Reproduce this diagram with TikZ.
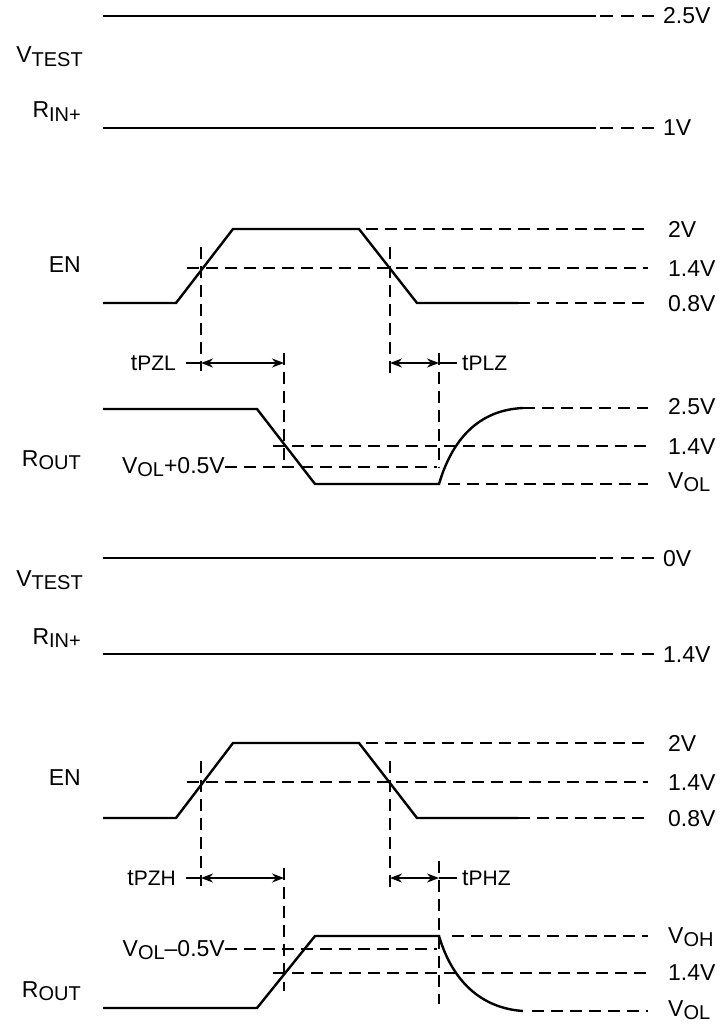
\documentclass[tikz,border=0pt]{standalone}
\usepackage{fontspec}
\setmainfont{Liberation Sans}
\usetikzlibrary{arrows.meta}
\newcommand\sg[2]{#1{\fontsize{20}{20}\selectfont\raisebox{-3.5pt}{#2}}}
\newcommand\tsg[2]{#1{\fontsize{21}{21}\selectfont #2}}
\begin{document}
\begin{tikzpicture}[x=1pt,y=-1pt,
  sig/.style={line width=2.4pt, line join=miter},
  dsh/.style={line width=2.1pt, dash pattern=on 12pt off 7pt},
  lbl/.style={font=\fontsize{23}{23}\selectfont, inner sep=0pt},
  arr/.style={line width=2pt, {Stealth[length=12pt,width=9pt]}-{Stealth[length=12pt,width=9pt]}},
  tk/.style={line width=2pt}]
\useasboundingbox (0,0) rectangle (720,1024);

% ================= upper half =================
% VTEST
\coordinate (a1) at (103,16); \coordinate (a2) at (596,16); \coordinate (a3) at (654,16);
\draw[sig] (a1) -- (a2);
\draw[dsh, dash pattern=on 13pt off 8pt, dash phase=-4pt] (a2) -- (a3);
\node[lbl, anchor=base west] (l25a) at (663,24) {2.5V};
\node[lbl, anchor=base east] (vt1) at (83,63) {\sg{V}{TEST}};
% RIN+
\coordinate (b1) at (103,128); \coordinate (b2) at (596,128); \coordinate (b3) at (654,128);
\draw[sig] (b1) -- (b2);
\draw[dsh, dash pattern=on 13pt off 8pt, dash phase=-4pt] (b2) -- (b3);
\node[lbl, anchor=base west] (l1v) at (663,136) {1V};
\node[lbl, anchor=base east] (rin1) at (81,118) {\sg{R}{IN+}};

% EN
\node[lbl, anchor=base east] (en1) at (81,272) {EN};
\coordinate (e1) at (103,303); \coordinate (e2) at (176,303);
\coordinate (e3) at (233,229); \coordinate (e4) at (359,229);
\coordinate (e5) at (417,303); \coordinate (e6) at (518,303);
\draw[sig] (e1) -- (e2) -- (e3) -- (e4) -- (e5) -- (e6);
\coordinate (e2v) at (648,229); \coordinate (e14a) at (187,268); \coordinate (e14b) at (648,268);
\coordinate (e08) at (648,303);
\draw[dsh] (366,229) -- (e2v);
\draw[dsh] (e14a) -- (e14b);
\draw[dsh] (e6) -- (e08);
\node[lbl, anchor=base west] (l2v) at (668,237) {2V};
\node[lbl, anchor=base west] (l14a) at (668,276) {1.4V};
\node[lbl, anchor=base west] (l08a) at (668,311) {0.8V};

% verticals
\coordinate (p1t) at (201,247); \coordinate (p1b) at (201,371);
\coordinate (p2t) at (390,247); \coordinate (p2b) at (390,377);
\coordinate (p3t) at (284,353); \coordinate (p3b) at (284,468);
\coordinate (p4t) at (439,353); \coordinate (p4b) at (439,468);
\draw[dsh] (p1t) -- (p1b);
\draw[dsh] (p2t) -- (p2b);
\draw[dsh] (p3t) -- (p3b);
\draw[dsh] (p4t) -- (p4b);

% timing arrows
\node[lbl, anchor=base east] (tpzl) at (176,370) {\tsg{t}{PZL}};
\coordinate (q1) at (186,363); \coordinate (q2) at (201,363); \coordinate (q3) at (284,363);
\draw[tk] (q1) -- (q2);
\draw[arr] (q2) -- (q3);
\coordinate (q4) at (390,363); \coordinate (q5) at (439,363); \coordinate (q6) at (457,363);
\draw[arr] (q4) -- (q5);
\draw[tk] (q5) -- (q6);
\node[lbl, anchor=base west] (tplz) at (462,370) {\tsg{t}{PLZ}};

% ROUT (low going)
\node[lbl, anchor=base east] (rout1) at (81,466) {\sg{R}{OUT}};
\coordinate (r1) at (103,409); \coordinate (r2) at (257,409);
\coordinate (r3) at (315,484); \coordinate (r4) at (439,484); \coordinate (r5) at (523,408);
\draw[sig] (r1) -- (r2) -- (r3) -- (r4) .. controls (452,440) and (478,410) .. (r5);
\draw[dsh] (r5) -- (648,408);
\draw[dsh] (273,446) -- (648,446);
\draw[dsh] (448,484) -- (648,484);
\node[lbl, anchor=base east] (vol05p) at (225,473) {\sg{V}{OL}+0.5V};
\draw[dsh] (vol05p.east |- 0,467) -- (437,467);
\node[lbl, anchor=base west] (l25b) at (668,414) {2.5V};
\node[lbl, anchor=base west] (l14b) at (668,454) {1.4V};
\node[lbl, anchor=base west] (lvol1) at (668,488) {\sg{V}{OL}};

% ================= lower half =================
% VTEST
\coordinate (c1) at (103,558); \coordinate (c2) at (596,558); \coordinate (c3) at (654,558);
\draw[sig] (c1) -- (c2);
\draw[dsh, dash pattern=on 13pt off 8pt, dash phase=-4pt] (c2) -- (c3);
\node[lbl, anchor=base west] (l0v) at (663,566) {0V};
\node[lbl, anchor=base east] (vt2) at (83,586) {\sg{V}{TEST}};
% RIN+
\coordinate (d1) at (103,654); \coordinate (d2) at (596,654); \coordinate (d3) at (654,654);
\draw[sig] (d1) -- (d2);
\draw[dsh, dash pattern=on 13pt off 8pt, dash phase=-4pt] (d2) -- (d3);
\node[lbl, anchor=base west] (l14c) at (663,662) {1.4V};
\node[lbl, anchor=base east] (rin2) at (81,644) {\sg{R}{IN+}};

% EN
\node[lbl, anchor=base east] (en2) at (81,785) {EN};
\coordinate (f1) at (103,818); \coordinate (f2) at (176,818);
\coordinate (f3) at (233,743); \coordinate (f4) at (359,743);
\coordinate (f5) at (417,818); \coordinate (f6) at (518,818);
\draw[sig] (f1) -- (f2) -- (f3) -- (f4) -- (f5) -- (f6);
\draw[dsh] (366,743) -- (648,743);
\draw[dsh] (187,782) -- (648,782);
\draw[dsh] (f6) -- (648,818);
\node[lbl, anchor=base west] (l2v2) at (668,751) {2V};
\node[lbl, anchor=base west] (l14d) at (668,790) {1.4V};
\node[lbl, anchor=base west] (l08b) at (668,826) {0.8V};

% verticals
\draw[dsh] (201,761) -- (201,886);
\draw[dsh] (390,761) -- (390,892);
\draw[dsh] (284,868) -- (284,991);
\draw[dsh, dash phase=-2pt] (439,859) -- (439,1004);

% timing arrows
\node[lbl, anchor=base east] (tpzh) at (176,885) {\tsg{t}{PZH}};
\coordinate (s1) at (186,878); \coordinate (s2) at (201,878); \coordinate (s3) at (284,878);
\draw[tk] (s1) -- (s2);
\draw[arr] (s2) -- (s3);
\coordinate (s4) at (390,878); \coordinate (s5) at (439,878); \coordinate (s6) at (457,878);
\draw[arr] (s4) -- (s5);
\draw[tk] (s5) -- (s6);
\node[lbl, anchor=base west] (tphz) at (462,885) {\tsg{t}{PHZ}};

% ROUT (high going)
\node[lbl, anchor=base east] (rout2) at (81,997) {\sg{R}{OUT}};
\coordinate (u1) at (103,1008); \coordinate (u2) at (257,1008);
\coordinate (u3) at (315,936); \coordinate (u4) at (439,936); \coordinate (u5) at (523,1011);
\draw[sig] (u1) -- (u2) -- (u3) -- (u4) .. controls (452,980) and (480,1008) .. (u5);
\draw[dsh] (452,936) -- (648,936);
\draw[dsh] (273,973) -- (648,973);
\draw[dsh] (532,1011) -- (648,1011);
\node[lbl, anchor=base east] (vol05m) at (225,956) {\sg{V}{OL}--0.5V};
\draw[dsh] (vol05m.east |- 0,949) -- (437,949);
\node[lbl, anchor=base west] (lvoh) at (668,943) {\sg{V}{OH}};
\node[lbl, anchor=base west] (l14e) at (668,980) {1.4V};
\node[lbl, anchor=base west] (lvol2) at (668,1016) {\sg{V}{OL}};
\end{tikzpicture}
\end{document}
